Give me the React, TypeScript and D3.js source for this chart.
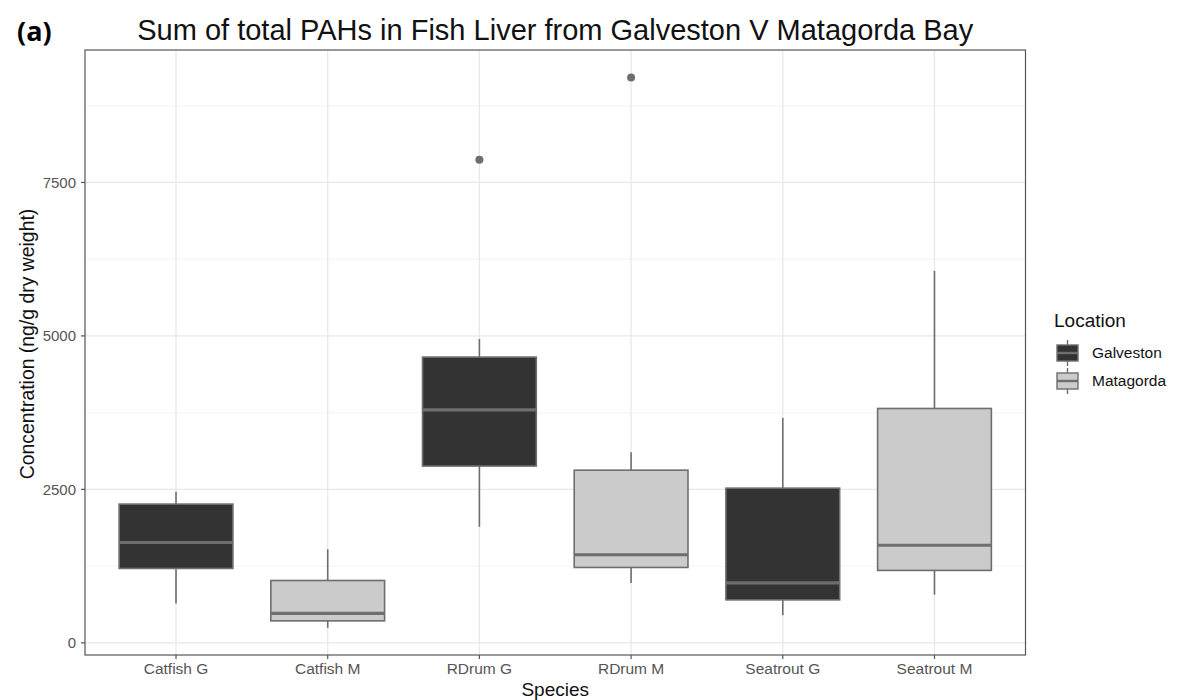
import React from 'react';
import * as d3 from 'd3';

// box stats (ng/g dry weight)
const species = ['Catfish G', 'Catfish M', 'RDrum G', 'RDrum M', 'Seatrout G', 'Seatrout M'];
const location = ['Galveston', 'Matagorda', 'Galveston', 'Matagorda', 'Galveston', 'Matagorda'];
const whiskerLow = [640, 245, 1890, 975, 450, 785];
const q1 = [1212, 358, 2880, 1228, 700, 1180];
const median = [1635, 480, 3795, 1435, 978, 1590];
const q3 = [2260, 1016, 4655, 2813, 2520, 3818];
const whiskerHigh = [2460, 1525, 4950, 3105, 3665, 6060];
const outliers = [[], [], [7870], [9210], [], []];

const yTicks = [0, 2500, 5000, 7500];
const yMinor = [1250, 3750, 6250, 8750];
const locations = ['Galveston', 'Matagorda'];
const fills: Record<string, string> = { Galveston: '#333333', Matagorda: '#cbcbcb' };

const W = 1177, H = 700;
const left = 85, right = 1025.5, top = 50, bottom = 655;
const font = '"Liberation Sans", Arial, sans-serif';

export default function App() {
  const x = d3.scalePoint<string>().domain(species).range([left, right]).padding(0.6);
  const y = d3.scaleLinear().domain([-198, 9658]).range([bottom, top]);
  const bw = x.step() * 0.75;
  const line = '#6e6e6e';

  return (
    <svg width={W} height={H} style={{ position: 'absolute', left: 0, top: 0, background: '#fff' }} fontFamily={font}>
      {/* panel grid */}
      {yMinor.map(v => (
        <line key={'mn' + v} x1={left} x2={right} y1={y(v)} y2={y(v)} stroke="#f0f0f0" strokeWidth={0.8} />
      ))}
      {yTicks.map(v => (
        <line key={'mj' + v} x1={left} x2={right} y1={y(v)} y2={y(v)} stroke="#e8e8e8" strokeWidth={1.3} />
      ))}
      {species.map(s => (
        <line key={'vg' + s} x1={x(s)} x2={x(s)} y1={top} y2={bottom} stroke="#e8e8e8" strokeWidth={1.3} />
      ))}

      {/* boxes */}
      {species.map((s, i) => {
        const cx = x(s) as number;
        return (
          <g key={s}>
            <line x1={cx} x2={cx} y1={y(whiskerHigh[i])} y2={y(q3[i])} stroke={line} strokeWidth={1.6} />
            <line x1={cx} x2={cx} y1={y(q1[i])} y2={y(whiskerLow[i])} stroke={line} strokeWidth={1.6} />
            <rect x={cx - bw / 2} y={y(q3[i])} width={bw} height={y(q1[i]) - y(q3[i])}
              fill={fills[location[i]]} stroke={line} strokeWidth={1.6} />
            <line x1={cx - bw / 2} x2={cx + bw / 2} y1={y(median[i])} y2={y(median[i])} stroke={line} strokeWidth={3.2} />
            {outliers[i].map(o => (
              <circle key={o} cx={cx} cy={y(o)} r={4} fill={line} />
            ))}
          </g>
        );
      })}

      {/* panel border */}
      <rect x={left} y={top} width={right - left} height={bottom - top} fill="none" stroke="#555" strokeWidth={1.2} />

      {/* y axis */}
      {yTicks.map(v => (
        <g key={'yt' + v}>
          <line x1={left - 4} x2={left} y1={y(v)} y2={y(v)} stroke="#555" strokeWidth={1.2} />
          <text x={left - 9} y={y(v)} dy="0.35em" textAnchor="end" fontSize={15} fill="#555">{v}</text>
        </g>
      ))}
      {/* x axis */}
      {species.map(s => (
        <g key={'xt' + s}>
          <line x1={x(s)} x2={x(s)} y1={bottom} y2={bottom + 4} stroke="#555" strokeWidth={1.2} />
          <text x={x(s)} y={674} textAnchor="middle" fontSize={15.5} fill="#555">{s}</text>
        </g>
      ))}

      <text x={(left + right) / 2} y={696} textAnchor="middle" fontSize={19} fill="#111">Species</text>
      <text transform={`translate(34,344) rotate(-90)`} textAnchor="middle" fontSize={19.4} fill="#111">
        Concentration (ng/g dry weight)
      </text>

      {/* title */}
      <text x={(left + right) / 2} y={40} textAnchor="middle" fontSize={29} fill="#111">
        Sum of total PAHs in Fish Liver from Galveston V Matagorda Bay
      </text>
      <text x={17} y={41} fontSize={27} fontWeight="bold" fill="#000" fontFamily='"Open Sans", "Liberation Sans", sans-serif'>(a)</text>

      {/* legend */}
      <text x={1054} y={327} fontSize={19} fill="#111">Location</text>
      {locations.map((l, i) => {
        const ky = 353 + i * 28;
        return (
          <g key={l}>
            <line x1={1067.5} x2={1067.5} y1={ky - 13} y2={ky + 13} stroke={line} strokeWidth={1.4} />
            <rect x={1057} y={ky - 8} width={21} height={16} fill={fills[l]} stroke={line} strokeWidth={1.4} />
            <line x1={1057} x2={1078} y1={ky} y2={ky} stroke={line} strokeWidth={2.4} />
            <text x={1092} y={ky} dy="0.35em" fontSize={15.5} fill="#111">{l}</text>
          </g>
        );
      })}
    </svg>
  );
}
